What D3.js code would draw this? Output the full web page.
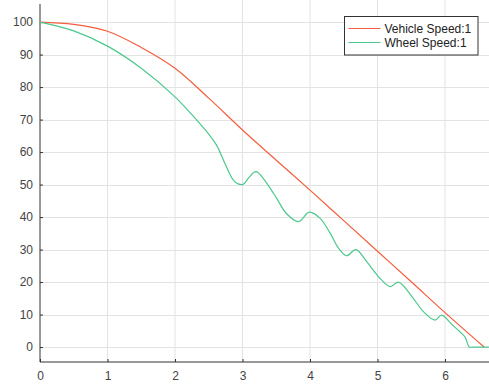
<!DOCTYPE html>
<html>
<head>
<meta charset="utf-8">
<script src="https://cdn.jsdelivr.net/npm/d3@7"></script>
<style>
  body { margin: 0; background: #fff; }
  svg { display: block; font-family: "Liberation Sans", Arial, sans-serif; }
</style>
</head>
<body>
<div id="chart"></div>
<script>
// Data (time in s, speed)
const vehicleTime  = [0, 0.5, 1, 1.5, 2, 2.5, 3, 3.5, 4, 4.5, 5, 5.5, 6, 6.58];
const vehicleSpeed = [100, 99.3, 97.2, 92.2, 85.8, 76.6, 66.8, 57.5, 48.3, 38.9, 29.5, 20.1, 10.6, 0];

const wheelTime  = [0, 0.5, 1, 1.5, 2, 2.25, 2.5, 2.62, 2.75, 2.88, 3.0, 3.1, 3.2, 3.46, 3.65, 3.83, 3.99, 4.15, 4.3, 4.42, 4.54, 4.68, 4.84, 5.04, 5.19, 5.31, 5.53, 5.68, 5.85, 5.95, 6.1, 6.22, 6.3, 6.36, 6.42, 6.65];
const wheelSpeed = [100, 97.3, 92.6, 85.8, 77, 71.5, 65.5, 62, 56, 51, 50, 52.3, 54, 47.3, 41.1, 38.6, 41.5, 39.6, 35, 30.5, 28.1, 30, 26.3, 21.1, 18.6, 20, 15, 10.9, 8.3, 9.8, 7, 4.7, 3, 0, 0, 0];

const xTicks = [0, 1, 2, 3, 4, 5, 6];
const yTicks = [0, 10, 20, 30, 40, 50, 60, 70, 80, 90, 100];
const seriesNames = ["Vehicle Speed:1", "Wheel Speed:1"];
const seriesColors = ["#f65d3d", "#4cc98e"];

const width = 489, height = 387;
const margin = { left: 40, right: 0, top: 0, bottom: 25 };

const svg = d3.select('#chart').append('svg')
    .attr('width', width)
    .attr('height', height);

const x = d3.scaleLinear().domain([0, 6.65]).range([margin.left, 40 + 6.65 * 67.5]);
const y = d3.scaleLinear().domain([-4.6, 106.8]).range([height - margin.bottom, margin.top]);

// grid
svg.append('g').selectAll('line.vgrid')
    .data(xTicks.slice(1))
    .enter().append('line')
    .attr('x1', d => x(d)).attr('x2', d => x(d))
    .attr('y1', y(-4.6)).attr('y2', 0)
    .attr('stroke', '#e3e3e3').attr('stroke-width', 1);

svg.append('g').selectAll('line.hgrid')
    .data(yTicks)
    .enter().append('line')
    .attr('x1', x(0)).attr('x2', width)
    .attr('y1', d => Math.round(y(d)) + 0.5).attr('y2', d => Math.round(y(d)) + 0.5)
    .attr('stroke', '#e3e3e3').attr('stroke-width', 1);

// axes with inward ticks
const xAxis = svg.append('g')
    .attr('transform', `translate(0,${y(-4.6)})`)
    .call(d3.axisBottom(x).tickValues(xTicks).tickSize(-3).tickPadding(9).tickFormat(d3.format('d')));

const yAxis = svg.append('g')
    .attr('transform', `translate(${x(0)},0)`)
    .call(d3.axisLeft(y).tickValues(yTicks).tickSize(-3).tickPadding(7).tickFormat(d3.format('d')));

[xAxis, yAxis].forEach(a => {
    a.select('.domain').remove();
    a.selectAll('.tick line').attr('stroke', '#333');
    a.selectAll('.tick text')
        .attr('fill', '#444')
        .style('font-size', '12px')
        .style('font-family', '"Liberation Sans", Arial, sans-serif');
});

svg.append('line')
    .attr('x1', x(0)).attr('x2', x(0))
    .attr('y1', 4).attr('y2', y(-4.6))
    .attr('stroke', '#333');
svg.append('line')
    .attr('x1', x(0)).attr('x2', width)
    .attr('y1', y(-4.6)).attr('y2', y(-4.6))
    .attr('stroke', '#333');

// lines
const line = d3.line()
    .x(d => x(d[0]))
    .y(d => y(d[1]))
    .curve(d3.curveCatmullRom.alpha(0.5));

const series = [
    d3.zip(vehicleTime, vehicleSpeed),
    d3.zip(wheelTime, wheelSpeed)
];

svg.append('g').selectAll('path')
    .data(series)
    .enter().append('path')
    .attr('d', line)
    .attr('fill', 'none')
    .attr('stroke', (d, i) => seriesColors[i])
    .attr('stroke-width', 1.2);

// legend
const legend = svg.append('g').attr('transform', 'translate(344.5,16.5)');
legend.append('rect')
    .attr('width', 133.5).attr('height', 38.5)
    .attr('fill', '#fff').attr('stroke', '#333').attr('stroke-width', 1);

const items = legend.selectAll('g.item')
    .data(seriesNames)
    .enter().append('g')
    .attr('transform', (d, i) => `translate(0,${12 + i * 14})`);

items.append('line')
    .attr('x1', 4).attr('x2', 36)
    .attr('stroke', (d, i) => seriesColors[i])
    .attr('stroke-width', 1.2);

items.append('text')
    .attr('x', 40).attr('dy', '0.35em')
    .attr('fill', '#222')
    .style('font-size', '12px')
    .text(d => d);
</script>
</body>
</html>
